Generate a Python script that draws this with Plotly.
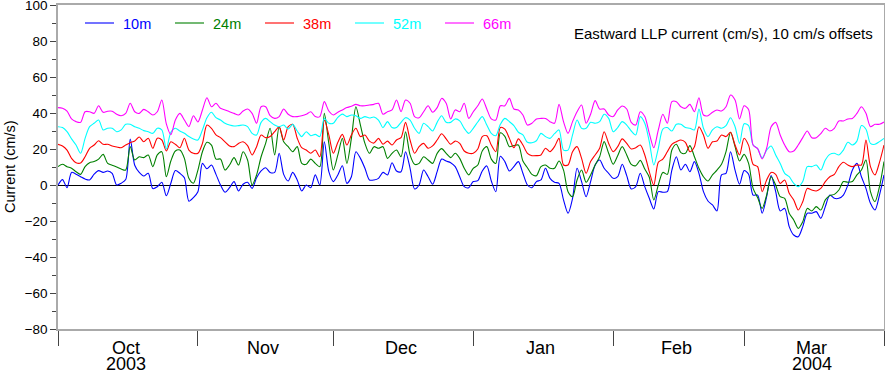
import pandas as pd
import plotly.graph_objects as go

# Daily values, 2003-10-01 .. 2004-04-01 (cm/s, with 10 cm/s offsets already applied)
dates = pd.date_range("2003-10-01", "2004-04-01", freq="D")

m10 = [
    # Oct
    0, 3, -1.5, 7, 6, 4.6, 3.3, 2.8, 6, 8, 7, 7.8, 6.5, 0, 1, 3, 25.5, 11, 7, 5, 6.5, -2, -1, 1.5, -6, 1, 8, 6.5, 4, -9, -7,
    # Nov
    -3.7, 12, 9, 11.1, 5.9, 0, -4, -1.5, 1.9, -3.3, 0.4, 1.5, -1.9, 4, 7.8, 9.6, 7, 7, 17.6, 5.9, 2.2, 7, 2.8, -3.3, 0, -1.5, 5.6, 0, 24, 7.4,
    # Dec
    1.9, 5.6, 10.7, 0.9, 4.6, 18.5, 14.8, 9.3, 2.8, 2.8, 3.7, 7, 5.6, 12.4, 7.8, 7.4, 18.5, 9.3, -2.2, 0, 8.3, 4.6, 0.4, 7.4, 14.4, 13.3, 12.4, 10.2, 4.6, -0.9, -1.5,
    # Jan
    1.9, 2.4, 7.8, 10.6, 2.2, -3.7, 16, 13, 7.8, 10.2, 13, 6.5, 0, -1.5, 1.9, 2.8, 9.3, 3.7, 1.5, 0.9, -8.3, -15.7, -7.4, 9.3, 1.9, -6.5, 1.9, 11.1, 13.9, 9.3, 6.5,
    # Feb
    3.7, 4.6, 11.5, 5.2, -2.2, -0.9, 6.5, -0.9, -7.4, -13.3, -3.7, -4, -3.7, 8.3, 15.7, 8.3, 11.5, 7.4, 13, 6.5, -3.7, -8.9, -11.1, -14.4, 5.6, 6.5, 18.5, 8.3, 0.4,
    # Mar + Apr 1
    8, 6, -5.6, -5.6, -15.7, -6.5, 5.2, -3.7, -14.4, -13, -23.1, -27.8, -28.7, -23.1, -15.7, -15.7, -14.8, -18.5, -12, -5.6, -7.4, -7.4, -5.6, 0, 8.3, 12, 4.6, -1.9, -10.2, -13.9, -5.6, 5.6,
]

m24 = [
    10.2, 11.5, 10.2, 9.3, 7.4, 5.9, 10.2, 12.4, 13, 14.4, 17, 12, 11, 10, 8.9, 8.3, 21.3, 13.9, 15.7, 15.2, 16.7, 10.2, 16.7, 18.5, 4.6, 13.3, 18.9, 19.4, 14.8, 3.7, 1,
    8.3, 18.5, 23.7, 22.2, 14.4, 14.4, 8.3, 11.1, 15.2, 11.1, 18.5, 13.9, 0, 5.6, 15.7, 23.1, 31.5, 16.7, 32.4, 24, 21.3, 18.5, 21.3, 12, 11.5, 14.4, 12, 10.2, 39.8, 23.1,
    8.3, 16.7, 25.9, 12, 25.9, 43.5, 33.3, 23.1, 17.6, 21.3, 20.4, 21.3, 14.8, 17.6, 19.4, 15.7, 29.6, 16.7, 11.5, 12, 15.7, 13.9, 12, 17.6, 20.2, 17.6, 15.2, 17.6, 14.8, 9.3, 5.6,
    9.3, 11.1, 18.9, 21.3, 14.4, 12, 29, 27, 21.3, 21.9, 22.2, 13.3, 9.6, 5.9, 5.2, 10.2, 11.1, 9.3, 9.3, 13.3, 8.3, -3.7, -6.5, 2.8, 8.3, 1.5, 5.6, 11.1, 15.7, 24.1, 17.6,
    11.5, 16.3, 21.3, 16.7, 11.5, 10.7, 13.7, 8.9, 4.3, -8.3, 0, 7, 5.9, 19.4, 22.6, 18, 17.6, 21.9, 15.7, 9.3, 4.6, 2.2, 5.6, 8.3, 11.5, 18.5, 29.3, 21.3, 13.3,
    17, 12, -1.9, -7, -13, -5.6, 4.6, 0, -6.5, -7.4, -15.7, -19.4, -24.1, -20.4, -13, -14.4, -12, -13.9, -8.3, -5.9, -5.2, -2.8, 1.9, 1.5, 1.9, 5.6, 8.3, 13.9, -3.7, -9.3, -0.9, 13,
]

m38 = [
    22.6, 21.7, 19.4, 14.8, 12.4, 12.2, 15.7, 20.4, 22.2, 24.6, 22.6, 22.6, 21.7, 21.1, 20.7, 22.2, 23.5, 24.4, 26.7, 24, 26, 20.4, 26, 25, 18.9, 24, 22.6, 20.7, 26, 19.4, 17.6,
    17.6, 23.1, 33.3, 31.5, 27.8, 26.3, 24, 21.7, 21.3, 23.1, 24, 21.9, 16.7, 21.3, 27.8, 26.3, 26.9, 29.6, 32.4, 25, 32.4, 33.7, 26, 20.7, 19.4, 17.6, 19.4, 15.7, 36.1, 27.8,
    17.6, 23.7, 28.1, 22.2, 27.8, 31.5, 26.9, 27.8, 24.4, 23.3, 25.9, 22.6, 24.4, 22.2, 25, 26.3, 34.8, 25, 17.6, 21.3, 23.1, 20.4, 21.7, 25, 28.5, 25.6, 22.6, 24.4, 23.1, 18.9, 17.6,
    17.6, 20, 26.9, 27.4, 22.2, 18.5, 32, 31, 25.9, 20.7, 25.6, 22.2, 17.6, 16.3, 16.3, 16.7, 20.4, 18.5, 21.3, 25.9, 11.1, 11.1, 18.5, 21.3, 14.8, 6.5, 13, 16.7, 20.4, 29.6, 23.1,
    18.5, 21.3, 25.6, 23.1, 20, 20.7, 22.2, 16.7, 7.4, 0, 12.6, 14.4, 18.5, 22.6, 24, 25, 23.7, 18.5, 21.3, 32.4, 27.8, 20.4, 24, 24.4, 27.8, 26.9, 29.3, 22.2, 16.7,
    26, 22, 11.5, 10.2, -3.7, 2.8, 7, 5.9, 0.9, 2.8, -4.6, -8.3, -13.9, -9.3, -1.9, -2.8, -3.3, -1.9, 1.9, 4.6, 5.9, 10.2, 12.6, 11.1, 10.2, 11.1, 11.1, 25, 10.2, 5.6, 12.6, 22.2,
]

m52 = [
    32.4, 31.9, 29.6, 25.6, 22.2, 17.6, 25.9, 32.4, 34.3, 36.1, 30.6, 31.5, 31.5, 29.6, 30.6, 33.7, 33.7, 32.4, 31.5, 30.2, 29.6, 28.7, 31.5, 30.6, 20, 29.3, 31.5, 30, 28.7, 26.9, 25.6,
    25, 30.6, 37.4, 40.4, 37.4, 36.1, 34.3, 33.3, 32.8, 33, 33.3, 32.4, 28.7, 27.8, 34.8, 37, 35.2, 33.3, 32.4, 33.3, 31.1, 33.7, 30, 26.9, 29.6, 27.4, 28.1, 26.9, 37, 34.3,
    34.3, 37.6, 39.4, 38, 38.9, 38.5, 37, 38, 37.2, 37.8, 36.1, 31.9, 35.2, 31.9, 31.9, 34.8, 37.4, 36.1, 31.5, 28.7, 34.3, 32.4, 30, 34.8, 38.5, 34.8, 34.8, 36.7, 35.6, 31.5, 28.7,
    31.5, 35, 38, 33.3, 28.7, 27.4, 33.7, 37, 35.2, 33, 29.3, 27.8, 23.7, 23.5, 24.6, 28.7, 26.9, 25.9, 28.5, 30.6, 19.4, 19.4, 27.8, 36.1, 31.5, 31.5, 34.8, 34.3, 35.2, 39.3, 37,
    29.6, 31.9, 35.2, 33.3, 30, 27.8, 38, 34.3, 24.1, 11.1, 20.4, 31.1, 31.9, 30, 33.7, 33.7, 31.9, 31.5, 30.6, 42.2, 31.5, 26.9, 30.6, 32.4, 31.5, 33, 37.4, 32.4, 23.1,
    34, 33, 22.2, 20.2, 15, 19.4, 21.7, 16.7, 12, 6.5, 4.6, 0.9, -0.9, 1.9, 10.2, 10.2, 11.1, 8.3, 13.9, 17, 17.6, 16.7, 19.4, 23.7, 22.2, 24.4, 33, 31, 23.1, 22.6, 24.1, 25.9,
]

m66 = [
    43, 42.6, 41, 36.7, 35.2, 34.8, 40.7, 40.7, 39.8, 44, 40.4, 41, 41, 39.3, 38.5, 39.8, 45.4, 40.7, 39.8, 42, 40.7, 38.9, 40.7, 47.2, 34, 28, 36.1, 39.8, 36.1, 32.4, 38.5,
    35, 41.7, 48.5, 43.5, 45.4, 42.6, 41.7, 40.7, 39.8, 38.9, 41.1, 42.2, 39.8, 34.3, 43.5, 43.5, 38.5, 37, 38, 42.2, 39.3, 38, 38, 38.5, 39.3, 40.7, 38, 38, 46.3, 41.1,
    38.9, 40.4, 41.7, 43, 43.7, 44.8, 44, 44, 44.4, 44.8, 45.4, 39.3, 40.7, 41.7, 47.2, 40.7, 47.2, 45.4, 38, 37.4, 40.7, 44, 40.4, 43, 48.1, 45.4, 36.7, 41.7, 40.7, 45.4, 37,
    40.7, 44, 47.8, 42.2, 36.7, 36.1, 44, 44, 48.1, 42.2, 41.7, 38.9, 33.3, 34.3, 36.7, 37, 37, 35.2, 34.3, 44.8, 35.2, 28.7, 35.2, 40.7, 44.4, 34.3, 39.3, 46.9, 42.2, 42.2, 38.9,
    38, 41.7, 43.9, 42.2, 34.8, 33.3, 40.7, 38, 28.7, 20.7, 30.6, 39.3, 34.3, 46.3, 46.3, 43.5, 42.6, 44.8, 40.7, 48.5, 38.9, 38.5, 40.4, 41.7, 41.1, 43.5, 50, 47.2, 36.7,
    44, 42, 22.2, 20.2, 14.5, 20.4, 32.4, 34.8, 27.8, 22.2, 18.5, 18.9, 22.2, 26.3, 30, 26.3, 26.3, 28.5, 31.5, 30, 31.5, 35.6, 35.6, 36.7, 37, 39.8, 43.5, 39.8, 32.4, 33.7, 33.7, 35,
]

series_names = ["10m", "24m", "38m", "52m", "66m"]
series_values = [m10, m24, m38, m52, m66]
series_colors = ["#0000ff", "#008000", "#ff0000", "#00ffff", "#ff00ff"]

month_starts = ["2003-10-01", "2003-11-01", "2003-12-01", "2004-01-01",
                "2004-02-01", "2004-03-01", "2004-04-01"]
month_mids = ["2003-10-16", "2003-11-15 12:00", "2003-12-16", "2004-01-16",
              "2004-02-15", "2004-03-16"]
month_labels = ["Oct", "Nov", "Dec", "Jan", "Feb", "Mar"]
year_labels = ["2003", "", "", "", "", "2004"]

title_text = "Eastward LLP current (cm/s), 10 cm/s offsets"
y_title = "Current (cm/s)"

FONT = "Liberation Sans, Arial, Helvetica, sans-serif"

fig = go.Figure()
for name, vals, col in zip(series_names, series_values, series_colors):
    fig.add_trace(go.Scatter(x=dates, y=vals, mode="lines", name=name,
                             line=dict(color=col, width=1.1, shape="spline", smoothing=0.8),
                             showlegend=False))

W, H = 885, 372
ml, mr, mt, mb = 58, 1, 5, 43
pw, ph = W - ml - mr, H - mt - mb

def px(x):
    return (x - ml) / pw

def py(y):
    return (H - mb - y) / ph

shapes = []
annotations = []
# manual legend
for i, (name, col) in enumerate(zip(series_names, series_colors)):
    x0 = 85 + 90 * i
    shapes.append(dict(type="line", xref="paper", yref="paper",
                       x0=px(x0), x1=px(x0 + 29), y0=py(23), y1=py(23),
                       line=dict(color=col, width=1.1)))
    annotations.append(dict(text=name, xref="paper", yref="paper",
                            x=px(x0 + 37), y=py(24), xanchor="left", yanchor="middle",
                            showarrow=False, borderpad=0,
                            font=dict(family=FONT, size=14.5, color=col)))

annotations.append(dict(text=title_text, xref="paper", yref="paper",
                        x=px(874), y=py(33), xanchor="right", yanchor="middle",
                        showarrow=False, borderpad=0,
                        font=dict(family=FONT, size=15, color="black")))

for d, lab, yr in zip(month_mids, month_labels, year_labels):
    annotations.append(dict(text=lab, xref="x", yref="paper", x=d, y=py(348),
                            xanchor="center", yanchor="middle", showarrow=False,
                            borderpad=0,
                            font=dict(family=FONT, size=18, color="black")))
    if yr:
        annotations.append(dict(text=yr, xref="x", yref="paper", x=d, y=py(364),
                                xanchor="center", yanchor="middle", showarrow=False,
                                borderpad=0,
                                font=dict(family=FONT, size=18, color="black")))

# y-axis title as rotated annotation
annotations.append(dict(text=y_title, xref="paper", yref="paper",
                        x=px(10), y=0.5, xanchor="center", yanchor="middle",
                        textangle=-90, showarrow=False, borderpad=0,
                        font=dict(family=FONT, size=14.5, color="black")))

fig.update_layout(
    width=W, height=H,
    margin=dict(l=ml, r=mr, t=mt, b=mb, autoexpand=False),
    paper_bgcolor="white", plot_bgcolor="white",
    font=dict(family=FONT, color="black"),
    shapes=shapes, annotations=annotations,
    showlegend=False,
)

fig.update_xaxes(
    type="date", range=["2003-10-01", "2004-04-01"],
    tickvals=month_starts, ticktext=[""] * len(month_starts),
    ticks="outside", ticklen=15, tickwidth=1, tickcolor="#444",
    showgrid=False, zeroline=False, automargin=False,
    showline=True, linecolor="#aaaaaa", linewidth=1.5, mirror=True,
)

fig.update_yaxes(
    range=[-80, 100], tick0=-80, dtick=20,
    ticks="outside", ticklen=6, tickwidth=1, tickcolor="#444",
    minor=dict(ticks="outside", ticklen=4, dtick=10, tick0=-80, tickcolor="#444", showgrid=False),
    tickfont=dict(family=FONT, size=13.5, color="black"),
    ticklabeloverflow="allow",
    showgrid=False, automargin=False,
    zeroline=True, zerolinecolor="black", zerolinewidth=1,
    showline=True, linecolor="#aaaaaa", linewidth=1.5, mirror=True,
)

fig.write_html(
    "out.html",
    config={"displayModeBar": False},
    post_script="document.body.style.margin='0';document.body.style.padding='0';document.body.style.overflow='hidden';",
)
